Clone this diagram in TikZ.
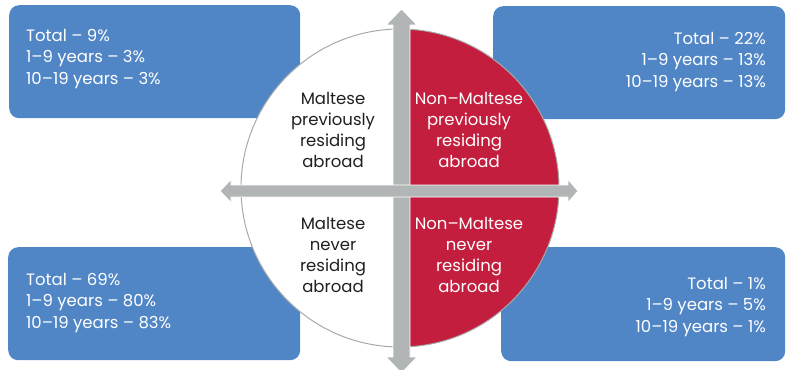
\documentclass[tikz,border=0pt]{standalone}
\usepackage{fontspec}
\setmainfont{Poppins}
\definecolor{boxblue}{HTML}{5086C6}
\definecolor{quadred}{HTML}{C41E3F}
\definecolor{axisgrey}{HTML}{B2B5B6}
\definecolor{rimgrey}{HTML}{A7A9AB}
\definecolor{inkdark}{HTML}{231F20}
\begin{document}
\begin{tikzpicture}[x=1pt,y=-1pt,
  statbox/.style={fill=boxblue, rounded corners=10pt, draw=none, inner sep=0pt, anchor=north west},
  stattext/.style={text=white, font=\fontsize{16.5}{21.5}\selectfont, inner sep=0pt},
  quadtext/.style={font=\fontsize{16.5}{21.3}\selectfont, align=center, inner sep=0pt},
  axis/.style={fill=axisgrey, draw=white, line width=0.8pt, line join=miter},
]
\useasboundingbox (0,0) rectangle (786,369);
\clip (0,0) rectangle (786,369);

% blue statistic panels behind the disc
\node[statbox, minimum width=291pt, minimum height=113pt] (tlbox) at (9,5) {};
\node[statbox, minimum width=292pt, minimum height=113pt] (trbox) at (493,6) {};
\node[statbox, minimum width=292pt, minimum height=113pt] (blbox) at (8,247) {};
\node[statbox, minimum width=284pt, minimum height=114pt] (brbox) at (501,247) {};

\node[stattext, align=left, anchor=west] (tltext) at (26,59) {Total – 9\%\\1–9 years – 3\%\\10–19 years – 3\%};
\node[stattext, align=right, anchor=east] (trtext) at (766,62) {Total – 22\%\\1–9 years – 13\%\\10–19 years – 13\%};
\node[stattext, align=left, anchor=west] (bltext) at (26,303) {Total – 69\%\\1–9 years – 80\%\\10–19 years – 83\%};
\node[stattext, align=right, anchor=east] (brtext) at (766,307) {Total – 1\%\\1–9 years – 5\%\\10–19 years – 1\%};

% the disc: white half for Maltese, red half for non-Maltese
\draw[rimgrey, fill=white, line width=1pt] (400,29) arc[start angle=90, end angle=270, radius=159pt] -- cycle;
\draw[rimgrey, fill=quadred, line width=1pt] (400,29) arc[start angle=90, end angle=-90, radius=159pt] -- cycle;

% double-headed axes
\draw[axis] (401.5,9) -- (417,25) -- (410,25) -- (410,357) -- (417,357) -- (401.5,373)
  -- (386,357) -- (393,357) -- (393,25) -- (386,25) -- cycle;
\draw[axis] (220,191) -- (231,179.5) -- (231,185) -- (568,185) -- (568,179.5) -- (578,191)
  -- (568,202.5) -- (568,197) -- (231,197) -- (231,202.5) -- cycle;

% quadrant labels
\node[quadtext, text=inkdark] (mprev) at (333,130) {Maltese\\previously\\residing\\abroad};
\node[quadtext, text=white] (nprev) at (469,130) {Non–Maltese\\previously\\residing\\abroad};
\node[quadtext, text=inkdark] (mnever) at (333,255) {Maltese\\never\\residing\\abroad};
\node[quadtext, text=white] (nnever) at (469,255) {Non–Maltese\\never\\residing\\abroad};
\end{tikzpicture}
\end{document}
